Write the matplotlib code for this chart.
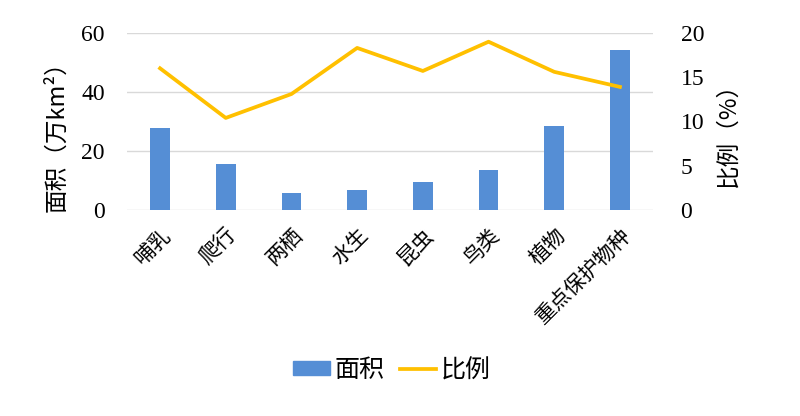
import numpy as np
import matplotlib.pyplot as plt
from matplotlib.patches import Patch
from matplotlib.lines import Line2D

categories = ['哺乳', '爬行', '两栖', '水生', '昆虫', '鸟类', '植物', '重点保护物种']
area = [27.9, 15.7, 5.9, 6.9, 9.6, 13.7, 28.6, 54.3]
ratio = [16.0, 10.4, 13.1, 18.3, 15.7, 19.0, 15.6, 13.9]

cjk = ['Noto Sans CJK SC', 'DejaVu Sans']
serif = ['Liberation Serif', 'DejaVu Serif']

fig = plt.figure(figsize=(8, 4.16), dpi=100)
ax = fig.add_axes([0.159, 0.495, 0.657, 0.426])
ax2 = ax.twinx()

x = np.arange(len(categories))
ax.bar(x, area, width=0.30, color='#558ED5', zorder=3)
ax2.plot(x, ratio, color='#FFC000', lw=2.7, zorder=4)

ax.set_xlim(-0.5, len(categories) - 0.5)
ax.set_ylim(0, 60)
ax.set_yticks([0, 20, 40, 60])
ax2.set_ylim(0, 20)
ax2.set_yticks([0, 5, 10, 15, 20])
ax.grid(axis='y', color='#d9d9d9', lw=1, zorder=0)
ax.set_axisbelow(True)

for a in (ax, ax2):
    for s in a.spines.values():
        s.set_visible(False)
    a.tick_params(length=0, labelsize=17)
    for lab in a.get_yticklabels():
        lab.set_family(serif)

ax.tick_params(axis='y', pad=16)
ax2.tick_params(axis='y', pad=20)

ax.set_xticks(x)
ax.set_xticklabels(categories, rotation=45, ha='right', va='top',
                   rotation_mode='anchor', fontsize=15, family=cjk)
ax.tick_params(axis='x', pad=10)

ax.set_ylabel('面积（万km²）', fontsize=17, family=cjk)
ax2.set_ylabel('比例（%）', fontsize=17, family=cjk)
ax.yaxis.set_label_coords(-0.112, 0.45)
ax2.yaxis.set_label_coords(1.122, 0.46)

handles = [Patch(color='#558ED5'), Line2D([], [], color='#FFC000', lw=2.7)]
fig.legend(handles, ['面积', '比例'], loc='center', bbox_to_anchor=(0.49, 0.11),
           ncol=2, frameon=False, prop={'family': cjk, 'size': 18},
           handlelength=1.45, handleheight=0.5, handletextpad=0.2,
           columnspacing=0.6)

fig.savefig('out.png', dpi=100)
